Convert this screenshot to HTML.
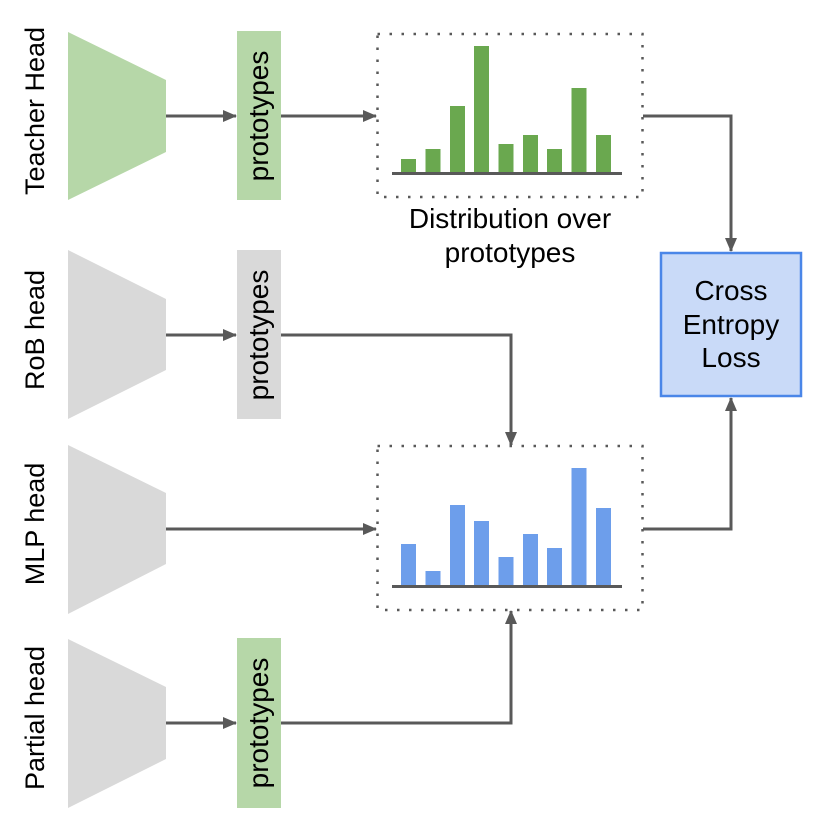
<!DOCTYPE html>
<html><head><meta charset="utf-8"><style>
html,body{margin:0;padding:0;background:#fff;}
svg{display:block;}
text{font-family:"Liberation Sans",Arial,sans-serif;fill:#000;}
</style></head><body>
<svg width="830" height="835" viewBox="0 0 830 835" xmlns="http://www.w3.org/2000/svg">
<defs>
<marker id="b" markerWidth="14" markerHeight="12" refX="13" refY="6" orient="auto" markerUnits="userSpaceOnUse" viewBox="0 0 14 12">
<path d="M0,0 L14,6 L0,12 z" fill="#595959"/>
</marker>
</defs>
<polygon points="68,32 166,80 166,152 68,200" fill="#b6d7a8"/>
<polygon points="68,250 166,299 166,370 68,419" fill="#d9d9d9"/>
<polygon points="68,445 166,493 166,564 68,614" fill="#d9d9d9"/>
<polygon points="68,639 166,687 166,759 68,808" fill="#d9d9d9"/>
<g font-size="27">
<text transform="translate(44,111) rotate(-90)" text-anchor="middle">Teacher Head</text>
<text transform="translate(44,330) rotate(-90)" text-anchor="middle">RoB head</text>
<text transform="translate(44,524) rotate(-90)" text-anchor="middle">MLP head</text>
<text transform="translate(44,718) rotate(-90)" text-anchor="middle">Partial head</text>
</g>
<rect x="237" y="31" width="44" height="169" fill="#b6d7a8"/>
<rect x="237" y="250" width="44" height="169" fill="#d9d9d9"/>
<rect x="237" y="638" width="44" height="170" fill="#b6d7a8"/>
<g font-size="28">
<text transform="translate(268,116) rotate(-90)" text-anchor="middle">prototypes</text>
<text transform="translate(268,335) rotate(-90)" text-anchor="middle">prototypes</text>
<text transform="translate(268,723) rotate(-90)" text-anchor="middle">prototypes</text>
</g>
<g stroke="#595959" stroke-width="3" fill="none">
<line x1="166" y1="116" x2="236" y2="116" marker-end="url(#b)"/>
<line x1="281" y1="116" x2="376" y2="116" marker-end="url(#b)"/>
<line x1="166" y1="335" x2="236" y2="335" marker-end="url(#b)"/>
<polyline points="281,335 511,335 511,445" marker-end="url(#b)"/>
<line x1="166" y1="529" x2="376" y2="529" marker-end="url(#b)"/>
<line x1="166" y1="723" x2="236" y2="723" marker-end="url(#b)"/>
<polyline points="281,723 511,723 511,611" marker-end="url(#b)"/>
<polyline points="643,116 731,116 731,251" marker-end="url(#b)"/>
<polyline points="643,529 731,529 731,398" marker-end="url(#b)"/>
</g>
<rect x="377.5" y="34" width="265" height="163" fill="none" stroke="#595959" stroke-width="2.5" stroke-dasharray="2.5,9.5"/>
<rect x="377.5" y="446" width="265" height="164" fill="none" stroke="#595959" stroke-width="2.5" stroke-dasharray="2.5,9.5"/>
<g fill="#6aa84f">
<rect x="401" y="159" width="15" height="14"/>
<rect x="425.5" y="149" width="15" height="24"/>
<rect x="450" y="106" width="15" height="67"/>
<rect x="474" y="46" width="15" height="127"/>
<rect x="498.5" y="144" width="15" height="29"/>
<rect x="523" y="135" width="15" height="38"/>
<rect x="547" y="149" width="15" height="24"/>
<rect x="571.5" y="88" width="15" height="85"/>
<rect x="596" y="135" width="15" height="38"/>
</g>
<line x1="392" y1="173.5" x2="622" y2="173.5" stroke="#595959" stroke-width="3"/>
<g fill="#6d9eeb">
<rect x="401" y="544" width="15" height="42"/>
<rect x="425.5" y="571" width="15" height="15"/>
<rect x="450" y="505" width="15" height="81"/>
<rect x="474" y="521" width="15" height="65"/>
<rect x="498.5" y="557" width="15" height="29"/>
<rect x="523" y="534" width="15" height="52"/>
<rect x="547" y="548" width="15" height="38"/>
<rect x="571.5" y="468" width="15" height="118"/>
<rect x="596" y="508" width="15" height="78"/>
</g>
<line x1="392" y1="586.5" x2="622" y2="586.5" stroke="#595959" stroke-width="3"/>
<g font-size="28" text-anchor="middle">
<text x="510" y="228">Distribution over</text>
<text x="510" y="262">prototypes</text>
</g>
<rect x="661" y="253" width="140" height="143" fill="#c9daf8" stroke="#4a86e8" stroke-width="2.5"/>
<g font-size="28" text-anchor="middle">
<text x="731" y="300">Cross</text>
<text x="731" y="334">Entropy</text>
<text x="731" y="367">Loss</text>
</g>
</svg>
</body></html>
